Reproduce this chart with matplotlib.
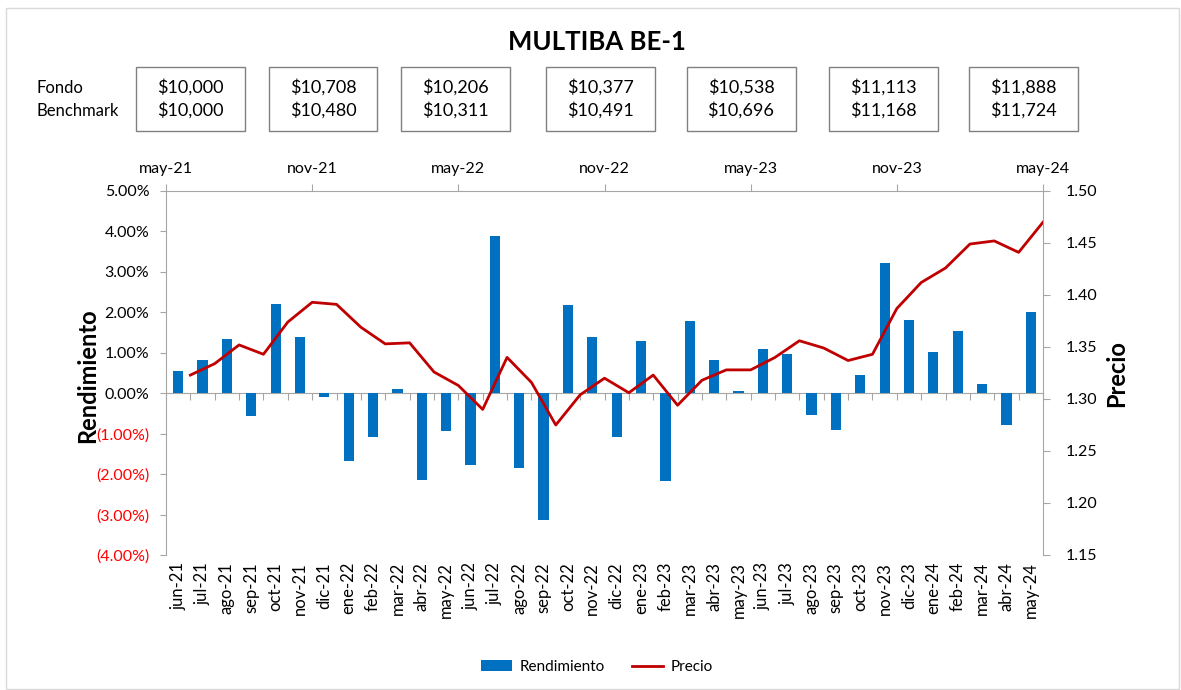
import numpy as np
import matplotlib
matplotlib.use('Agg')
import matplotlib.pyplot as plt
from matplotlib.patches import Rectangle

plt.rcParams['font.family'] = ['Lato', 'DejaVu Sans']

# Datos
meses = ['jun-21', 'jul-21', 'ago-21', 'sep-21', 'oct-21', 'nov-21', 'dic-21',
         'ene-22', 'feb-22', 'mar-22', 'abr-22', 'may-22', 'jun-22', 'jul-22',
         'ago-22', 'sep-22', 'oct-22', 'nov-22', 'dic-22', 'ene-23', 'feb-23',
         'mar-23', 'abr-23', 'may-23', 'jun-23', 'jul-23', 'ago-23', 'sep-23',
         'oct-23', 'nov-23', 'dic-23', 'ene-24', 'feb-24', 'mar-24', 'abr-24',
         'may-24']
rendimiento = [0.55, 0.82, 1.35, -0.57, 2.21, 1.39, -0.10, -1.68, -1.09, 0.11,
               -2.15, -0.94, -1.78, 3.89, -1.85, -3.14, 2.19, 1.39, -1.09, 1.29,
               -2.18, 1.78, 0.82, 0.06, 1.10, 0.96, -0.53, -0.91, 0.45, 3.21,
               1.82, 1.02, 1.54, 0.24, -0.78, 2.00]
precio = [1.323, 1.334, 1.352, 1.343, 1.374, 1.393, 1.391, 1.369, 1.353, 1.354,
          1.326, 1.313, 1.290, 1.340, 1.316, 1.275, 1.304, 1.320, 1.306, 1.323,
          1.294, 1.318, 1.328, 1.328, 1.340, 1.356, 1.349, 1.337, 1.343, 1.387,
          1.412, 1.426, 1.449, 1.452, 1.441, 1.470]
# meses transcurridos desde may-21 para la serie de precio
meses_num = list(range(1, 37))
fechas_sup = ['may-21', 'nov-21', 'may-22', 'nov-22', 'may-23', 'nov-23', 'may-24']
fechas_sup_num = [0, 6, 12, 18, 24, 30, 36]
fondo = ['$10,000', '$10,708', '$10,206', '$10,377', '$10,538', '$11,113', '$11,888']
benchmark = ['$10,000', '$10,480', '$10,311', '$10,491', '$10,696', '$11,168', '$11,724']

W, H = 1181, 690
gris = '#a6a6a6'

fig = plt.figure(figsize=(W / 100, H / 100), dpi=100)
fig.add_artist(Rectangle((6 / W, 1 / H), 1173 / W, (H - 9) / H, transform=fig.transFigure,
                         fill=False, edgecolor='#d9d9d9', lw=1))

pos = [166 / W, 1 - 555 / H, 877 / W, 364 / H]

# Barras - Rendimiento
ax = fig.add_axes(pos)
x = np.arange(len(meses))
barras = ax.bar(x, rendimiento, width=0.42, color='#0070c0', label='Rendimiento', zorder=2)
ax.set_xlim(-0.5, len(meses) - 0.5)
ax.set_ylim(-4, 5)
yt = np.arange(-4, 6, 1)
ylab = [f'({abs(v):.2f}%)' if v < 0 else f'{v:.2f}%' for v in yt]
ax.set_yticks(yt, ylab)
for t, v in zip(ax.get_yticklabels(), yt):
    if v < 0:
        t.set_color('#ff0000')
ax.tick_params(axis='y', length=4, color=gris, labelsize=11.5, pad=8)
ax.set_xticks(x, meses, rotation=90)
ax.tick_params(axis='x', length=0, labelsize=12, pad=5)
for s in ['top', 'right', 'bottom']:
    ax.spines[s].set_visible(False)
ax.spines['left'].set_color(gris)

# eje horizontal en 0 con marcas entre categorias
sec = ax.secondary_xaxis(0, transform=ax.transData)
sec.set_xticks(np.arange(-0.5, len(meses), 1))
sec.tick_params(axis='x', length=5, color=gris, labelbottom=False)
sec.spines['bottom'].set_color(gris)

# Linea - Precio
ax2 = fig.add_axes(pos)
ax2.patch.set_visible(False)
linea, = ax2.plot(meses_num, precio, color='#c00000', lw=2, label='Precio', zorder=3)
ax2.set_xlim(0, 36)
ax2.set_ylim(1.15, 1.50)
ax2.set_yticks(np.arange(1.15, 1.501, 0.05))
ax2.yaxis.set_major_formatter(lambda v, p: f'{v:.2f}')
ax2.yaxis.tick_right()
ax2.xaxis.tick_top()
ax2.set_xticks(fechas_sup_num, fechas_sup)
ax2.tick_params(axis='x', length=5, color=gris, labelsize=11.5, pad=6)
ax2.tick_params(axis='y', length=5, color=gris, labelsize=11.5, pad=11)
for s in ['left', 'bottom']:
    ax2.spines[s].set_visible(False)
ax2.spines['top'].set_color(gris)
ax2.spines['right'].set_color(gris)

# Textos
fig.text(597 / W, 1 - 42 / H, 'MULTIBA BE-1', ha='center', va='center',
         fontsize=18.5, fontweight='bold')
fig.text(88 / W, 1 - 376 / H, 'Rendimiento', rotation=90, ha='center', va='center',
         fontsize=17, fontweight='bold')
fig.text(1117 / W, 1 - 374 / H, 'Precio', rotation=90, ha='center', va='center',
         fontsize=17, fontweight='bold')
fig.text(37 / W, 1 - 88 / H, 'Fondo', ha='left', va='center', fontsize=12)
fig.text(37 / W, 1 - 111 / H, 'Benchmark', ha='left', va='center', fontsize=12)

caja_x = [190, 323, 455, 600, 741, 883, 1023]
for cx, f, b in zip(caja_x, fondo, benchmark):
    fig.add_artist(Rectangle(((cx - 54.5) / W, 1 - 131 / H), 109 / W, 64 / H,
                             transform=fig.transFigure, fill=False,
                             edgecolor='#808080', lw=1))
    fig.text(cx / W, 1 - 87 / H, f, ha='center', va='center', fontsize=13)
    fig.text(cx / W, 1 - 110 / H, b, ha='center', va='center', fontsize=13)

fig.legend([barras, linea], ['Rendimiento', 'Precio'], loc='center',
           bbox_to_anchor=(597 / W, 1 - 667 / H), ncol=2, frameon=False,
           fontsize=11, handlelength=2.0, handletextpad=0.5, columnspacing=1.8)

fig.savefig('out.png', dpi=100)
